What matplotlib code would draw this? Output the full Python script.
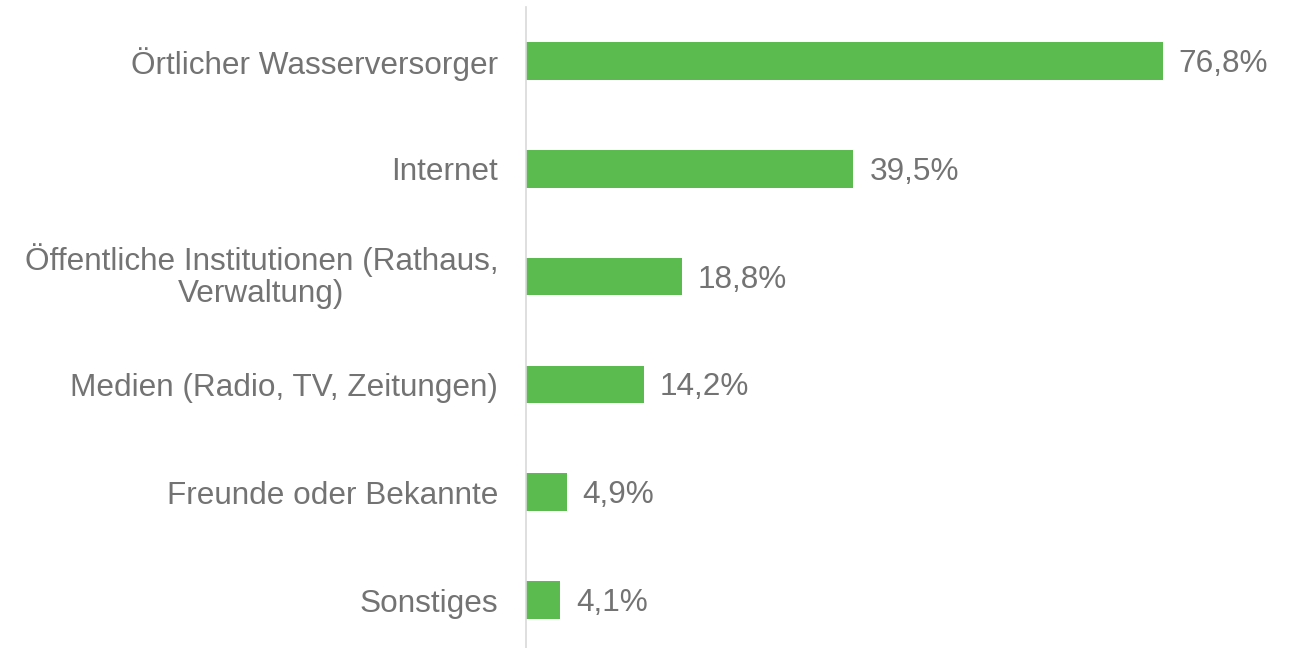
import matplotlib
matplotlib.use("Agg")
import matplotlib.pyplot as plt
from matplotlib.transforms import ScaledTranslation

categories = ["Örtlicher Wasserversorger", "Internet",
              "Öffentliche Institutionen (Rathaus,\nVerwaltung)",
              "Medien (Radio, TV, Zeitungen)", "Freunde oder Bekannte", "Sonstiges"]
values = [76.8, 39.5, 18.8, 14.2, 4.9, 4.1]
value_labels = ["76,8%", "39,5%", "18,8%", "14,2%", "4,9%", "4,1%"]

plt.rcParams['font.family'] = ['Liberation Sans', 'DejaVu Sans']
text_color = "#737373"
bar_color = "#5bbb4f"
fs = 22.7

fig = plt.figure(figsize=(12.96, 6.48), dpi=100)
ax = fig.add_axes([526/1296, 1-654/648, 746/1296, 647/648])

ypos = list(range(len(categories)))
ax.barh(ypos, values, height=0.35, color=bar_color)
ax.set_xlim(0, 90)
ax.set_ylim(len(categories)-0.5, -0.5)

for y, v, lab in zip(ypos, values, value_labels):
    ax.annotate(lab, (v, y), xytext=(16, -3), textcoords="offset pixels",
                va="center", ha="left", fontsize=fs, color=text_color)

ax.set_yticks(ypos)
ax.set_yticklabels(categories, fontsize=fs, color=text_color,
                   multialignment="center", linespacing=1.1)
ax.tick_params(axis="y", length=0, pad=20)
for lbl in ax.get_yticklabels():
    if "\n" in lbl.get_text():
        lbl.set_transform(lbl.get_transform() + ScaledTranslation(0, 5/100, fig.dpi_scale_trans))
ax.set_xticks([])
for s in ["top", "right", "bottom"]:
    ax.spines[s].set_visible(False)
ax.spines["left"].set_color("#d9d9d9")
ax.spines["left"].set_linewidth(1.2)

fig.savefig("out.png", dpi=100)
